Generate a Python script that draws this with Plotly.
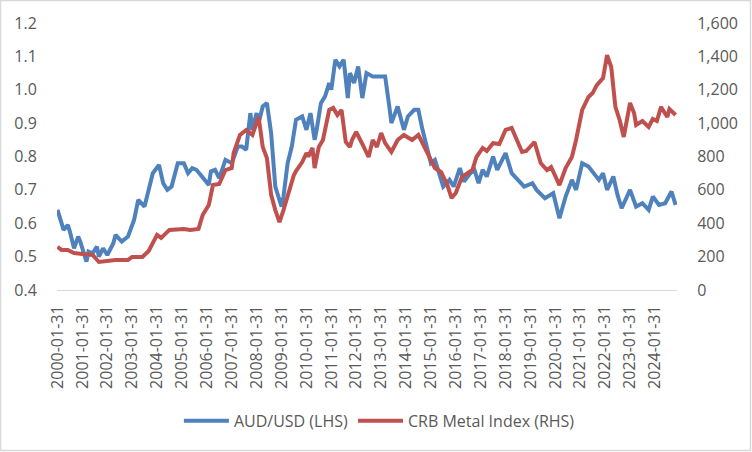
import pandas as pd
import plotly.graph_objects as go

# AUD/USD (left axis) — month, value
aud_months = ["2000-01","2000-03","2000-04","2000-06","2000-07","2000-09","2000-11","2000-12",
 "2001-03","2001-04","2001-06","2001-08","2001-09","2001-11","2002-01","2002-04","2002-05",
 "2002-08","2002-11","2003-02","2003-04","2003-07","2003-09","2003-11","2004-02","2004-04",
 "2004-06","2004-08","2004-11","2005-02","2005-04","2005-06","2005-08","2005-11","2006-02",
 "2006-03","2006-05","2006-07","2006-10","2007-01","2007-04","2007-06","2007-08","2007-10",
 "2007-11","2008-01","2008-02","2008-04","2008-06","2008-08","2008-09","2008-10","2008-11",
 "2009-01","2009-02","2009-04","2009-06","2009-08","2009-11","2010-01","2010-03","2010-05",
 "2010-06","2010-08","2010-10","2010-12","2011-01","2011-03","2011-05","2011-07","2011-09",
 "2011-10","2011-12","2012-02","2012-04","2012-06","2012-09","2013-03","2013-05","2013-06",
 "2013-09","2013-12","2014-02","2014-05","2014-07","2014-09","2015-01","2015-03","2015-05",
 "2015-07","2015-10","2015-12","2016-03","2016-05","2016-08","2016-10","2016-12","2017-02",
 "2017-04","2017-07","2017-09","2018-01","2018-04","2018-07","2018-10","2019-02","2019-04",
 "2019-08","2019-12","2020-03","2020-06","2020-09","2020-11","2021-02","2021-05","2021-10",
 "2021-12","2022-02","2022-05","2022-07","2022-09","2023-01","2023-04","2023-07","2023-10",
 "2023-12","2024-03","2024-06","2024-09","2024-11"]
aud_values = [0.64,0.60,0.58,0.595,0.575,0.525,0.56,0.545,
 0.485,0.515,0.51,0.53,0.50,0.525,0.505,0.54,0.565,
 0.545,0.56,0.61,0.67,0.65,0.70,0.75,0.775,0.72,
 0.70,0.71,0.78,0.78,0.75,0.765,0.76,0.735,0.715,
 0.755,0.76,0.735,0.79,0.78,0.83,0.83,0.82,0.93,
 0.88,0.93,0.90,0.95,0.96,0.87,0.78,0.71,0.69,
 0.65,0.68,0.78,0.83,0.91,0.92,0.88,0.93,0.85,
 0.88,0.96,0.98,1.02,1.00,1.09,1.07,1.09,0.975,
 1.05,1.02,1.07,0.975,1.05,1.04,1.04,0.95,0.90,
 0.95,0.88,0.92,0.94,0.94,0.88,0.78,0.79,0.75,
 0.71,0.73,0.71,0.765,0.725,0.75,0.76,0.72,0.76,
 0.74,0.80,0.76,0.81,0.75,0.73,0.71,0.72,0.70,
 0.675,0.69,0.615,0.68,0.73,0.70,0.78,0.77,0.73,
 0.75,0.70,0.74,0.685,0.645,0.70,0.65,0.66,0.64,
 0.68,0.655,0.66,0.695,0.655]

# CRB Metal Index (right axis) — month, value
crb_months = ["2000-01","2000-03","2000-06","2000-09","2001-01","2001-06","2001-09","2002-01",
 "2002-05","2002-11","2003-01","2003-06","2003-09","2004-01","2004-03","2004-07","2004-11",
 "2005-02","2005-05","2005-09","2005-11","2006-02","2006-04","2006-07","2006-10","2007-01",
 "2007-02","2007-05","2007-08","2007-11","2008-02","2008-04","2008-06","2008-08","2008-10",
 "2008-12","2009-02","2009-05","2009-07","2009-08","2009-11","2010-01","2010-02","2010-04",
 "2010-05","2010-07","2010-09","2010-12","2011-02","2011-04","2011-06","2011-08","2011-10",
 "2011-11","2012-01","2012-04","2012-07","2012-09","2012-11","2013-01","2013-03","2013-06",
 "2013-09","2013-12","2014-04","2014-07","2014-10","2015-01","2015-03","2015-06","2015-09",
 "2015-11","2016-01","2016-04","2016-07","2016-09","2016-11","2017-02","2017-04","2017-07",
 "2017-10","2018-01","2018-04","2018-06","2018-09","2018-11","2019-03","2019-06","2019-09",
 "2019-11","2020-03","2020-06","2020-09","2020-11","2021-02","2021-05","2021-07","2021-09",
 "2021-12","2022-02","2022-04","2022-06","2022-08","2022-10","2023-01","2023-03","2023-04",
 "2023-07","2023-10","2023-12","2024-02","2024-04","2024-07","2024-08","2024-11"]
crb_values = [258,240,240,222,216,210,168,174,
 180,180,198,198,234,330,312,360,366,
 366,360,366,449,509,629,635,719,731,
 821,929,959,929,1037,857,790,570,479,
 407,479,617,689,713,767,821,800,851,
 731,857,899,1079,1091,1049,1079,887,857,
 899,947,875,797,899,857,941,880,827,
 899,929,899,929,857,779,731,707,629,
 551,581,677,701,719,797,851,833,880,
 875,959,971,917,827,833,887,761,719,
 737,629,731,797,899,1079,1157,1180,1228,
 1270,1408,1336,1097,1019,917,1121,1061,989,
 1013,977,1025,1013,1097,1037,1085,1049]

tick_labels = [f"{y}-01-31" for y in range(2000, 2025)]

aud_dates = pd.to_datetime(aud_months) + pd.offsets.MonthEnd(0)
crb_dates = pd.to_datetime(crb_months) + pd.offsets.MonthEnd(0)

FONT = "Open Sans, Liberation Sans, sans-serif"
TXT = "#595959"
FS = 16

fig = go.Figure()
fig.add_trace(go.Scatter(x=aud_dates, y=aud_values, name="AUD/USD (LHS)", mode="lines",
                         line=dict(color="#4F81BD", width=4), yaxis="y"))
fig.add_trace(go.Scatter(x=crb_dates, y=crb_values, name="CRB Metal Index (RHS)", mode="lines",
                         line=dict(color="#C0504D", width=4), yaxis="y2"))

L, R, T, B = 57, 75, 23, 162
W, H = 752, 452
pw, ph = W - L - R, H - T - B

fig.update_layout(
    width=W, height=H,
    margin=dict(l=L, r=R, t=T, b=B),
    paper_bgcolor="white", plot_bgcolor="white",
    font=dict(family=FONT, size=FS, color=TXT),
    showlegend=True,
    legend=dict(orientation="h", x=0.52, xanchor="center", y=-0.49, yanchor="middle",
                font=dict(size=FS, color=TXT), itemwidth=45),
    xaxis=dict(type="date", range=["2000-01-24", "2024-12-20"],
               tickvals=tick_labels, ticktext=tick_labels, tickangle=-90,
               showgrid=False, zeroline=False, showline=True, linecolor="#D9D9D9", linewidth=1,
               ticks="outside", ticklen=8, tickcolor="rgba(0,0,0,0)"),
    yaxis=dict(range=[0.4, 1.2], dtick=0.1, tick0=0.4, tickformat=".1f",
               showgrid=False, zeroline=False, showline=False,
               ticks="outside", ticklen=16, tickcolor="rgba(0,0,0,0)"),
    yaxis2=dict(range=[0, 1600], dtick=200, tick0=0, tickformat=",", overlaying="y", side="right",
                showgrid=False, zeroline=False, showline=False,
                ticks="outside", ticklen=16, tickcolor="rgba(0,0,0,0)"),
    shapes=[dict(type="rect", xref="paper", yref="paper",
                 x0=(0.5 - L) / pw, x1=(W - 1.5 - L) / pw,
                 y0=(H - B - (H - 1.5)) / ph, y1=(H - B - 0.5) / ph,
                 line=dict(color="#D9D9D9", width=1.5), layer="below")],
)

fig.write_html("out.html", config={"displayModeBar": False},
               post_script="document.body.style.margin='0';document.body.style.overflow='hidden';")
